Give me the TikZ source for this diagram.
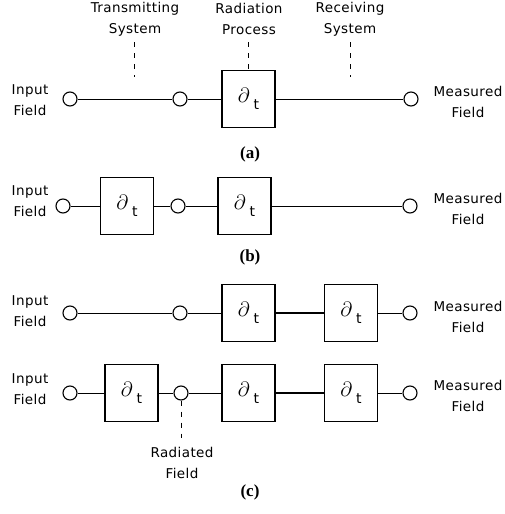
\documentclass[tikz,border=0pt]{standalone}
\usepackage{fontspec}
\newfontfamily\plot[LetterSpace=3]{DejaVu Sans}
\newfontfamily\capf{Liberation Serif}
\newcommand\dtsym{\raisebox{2pt}{\fontsize{20}{20}\selectfont$\partial$}\hspace{4pt}\raisebox{-5pt}{\plot\fontsize{14}{14}\selectfont t}}
\begin{document}
\begin{tikzpicture}[x=1pt,y=1pt,
 port/.style={circle,draw,minimum size=14pt,inner sep=0pt,line width=1.1pt},
 dbox/.style={draw,minimum width=53pt,minimum height=57pt,inner sep=0pt,line width=1.1pt},
 wire/.style={line width=1pt},
 lab/.style={align=center,inner sep=0pt,font=\plot\fontsize{13.5}{21}\selectfont},
 captxt/.style={font=\capf\bfseries\fontsize{17}{17}\selectfont},
 guide/.style={dash pattern=on 5pt off 6pt,line width=1pt}]
\useasboundingbox (0,0) rectangle (504,-514);

% ---------- (a)
\node[port] (a1) at (70,-99) {};
\node[port] (a2) at (180,-99) {};
\node[dbox] (ab) at (248.5,-99) {\dtsym};
\node[port] (a3) at (411,-99) {};
\draw[wire] (a1) -- (a2);
\draw[wire] (a2) -- (ab);
\draw[wire] (ab) -- (a3);
\node[lab] (ain) at (30,-100) {Input\\Field};
\node[lab] (aout) at (468,-102) {Measured\\Field};
\node[lab] (tx) at (135,-19) {Transmitting\\System};
\node[lab] (rp) at (249,-19) {Radiation\\Process};
\node[lab] (rx) at (350,-19) {Receiving\\System};
\coordinate (txa) at (134,-42); \coordinate (txb) at (134,-77);
\coordinate (rpa) at (248.5,-42);
\coordinate (rxa) at (350,-42); \coordinate (rxb) at (350,-77);
\draw[guide] (txa) -- (txb);
\draw[guide] (rpa) -- (ab.north);
\draw[guide] (rxa) -- (rxb);
\node[captxt] (capa) at (250,-154) {(a)};

% ---------- (b)
\node[port] (b1) at (63,-206) {};
\node[dbox] (bb1) at (127,-206) {\dtsym};
\node[port] (b2) at (178,-206) {};
\node[dbox] (bb2) at (244.5,-206) {\dtsym};
\node[port] (b3) at (410,-206) {};
\draw[wire] (b1) -- (bb1);
\draw[wire] (bb1) -- (b2);
\draw[wire] (b2) -- (bb2);
\draw[wire] (bb2) -- (b3);
\node[lab] (bin) at (30,-201) {Input\\Field};
\node[lab] (bout) at (468,-208.5) {Measured\\Field};
\node[captxt] (capb) at (250,-257) {(b)};

% ---------- (c) first row
\node[port] (c1) at (70,-313) {};
\node[port] (c2) at (180,-313) {};
\node[dbox] (cb1) at (248.5,-313) {\dtsym};
\node[dbox] (cb2) at (351,-313) {\dtsym};
\node[port] (c3) at (410,-313) {};
\draw[wire] (c1) -- (c2);
\draw[wire] (c2) -- (cb1);
\draw[wire,line width=1.3pt] (cb1) -- (cb2);
\draw[wire] (cb2) -- (c3);
\node[lab] (cin) at (30,-311) {Input\\Field};
\node[lab] (cout) at (468,-316.5) {Measured\\Field};

% ---------- (c) second row
\node[port] (d1) at (70,-393) {};
\node[dbox] (db1) at (131.5,-393) {\dtsym};
\node[port] (d2) at (181,-393) {};
\node[dbox] (db2) at (248.5,-393) {\dtsym};
\node[dbox] (db3) at (351,-393) {\dtsym};
\node[port] (d3) at (410,-393) {};
\draw[wire] (d1) -- (db1);
\draw[wire] (db1) -- (d2);
\draw[wire] (d2) -- (db2);
\draw[wire,line width=1.3pt] (db2) -- (db3);
\draw[wire] (db3) -- (d3);
\coordinate (radb) at (181,-438);
\draw[guide] (d2.south) -- (radb);
\node[lab] (din) at (30,-389.5) {Input\\Field};
\node[lab] (dout) at (468,-396) {Measured\\Field};
\node[lab] (rad) at (182,-463) {Radiated\\Field};
\node[captxt] (capc) at (250,-492) {(c)};
\end{tikzpicture}
\end{document}
